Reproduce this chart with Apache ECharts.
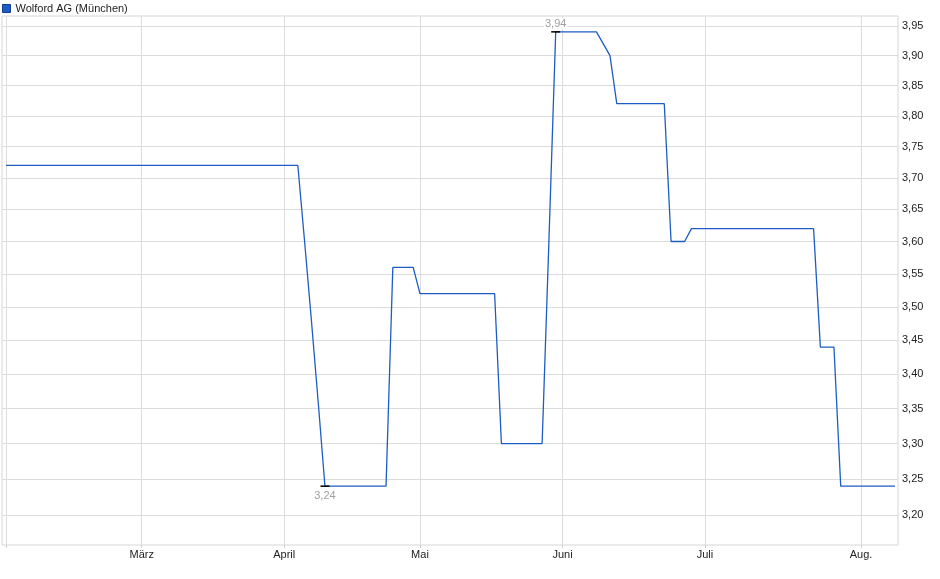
<!DOCTYPE html>
<html>
<head>
<meta charset="utf-8">
<script src="https://cdn.jsdelivr.net/npm/echarts@6/dist/echarts.min.js"></script>
<style>
html,body{margin:0;padding:0;background:#fff;}
#chart{width:940px;height:579px;}
</style>
</head>
<body>
<div id="chart"></div>
<script>
// Trading days 2025-02-03 .. 2025-08-08 (index-based x axis)
var seriesName = 'Wolford AG (München)';
var monthLabels = ['', 'März', 'April', 'Mai', 'Juni', 'Juli', 'Aug.'];
var monthStartIdx = [0, 20, 41, 61, 82, 103, 126];
var yTickValues = [3.20, 3.25, 3.30, 3.35, 3.40, 3.45, 3.50, 3.55, 3.60, 3.65, 3.70, 3.75, 3.80, 3.85, 3.90, 3.95];
var prices = [
  3.72,3.72,3.72,3.72,3.72,3.72,3.72,3.72,3.72,3.72,
  3.72,3.72,3.72,3.72,3.72,3.72,3.72,3.72,3.72,3.72,
  3.72,3.72,3.72,3.72,3.72,3.72,3.72,3.72,3.72,3.72,
  3.72,3.72,3.72,3.72,3.72,3.72,3.72,3.72,3.72,3.72,
  3.72,3.72,3.72,3.72,
  3.60,3.48,3.36,
  3.24,3.24,3.24,3.24,3.24,3.24,3.24,3.24,3.24,3.24,
  3.56,3.56,3.56,3.56,
  3.52,3.52,3.52,3.52,3.52,3.52,3.52,3.52,3.52,3.52,3.52,3.52,
  3.30,3.30,3.30,3.30,3.30,3.30,3.30,
  3.60,
  3.94,3.94,3.94,3.94,3.94,3.94,3.94,
  3.92,3.90,
  3.82,3.82,3.82,3.82,3.82,3.82,3.82,3.82,
  3.60,3.60,3.60,
  3.62,3.62,3.62,3.62,3.62,3.62,3.62,3.62,3.62,3.62,
  3.62,3.62,3.62,3.62,3.62,3.62,3.62,3.62,3.62,
  3.44,3.44,3.44,
  3.24,3.24,3.24,3.24,3.24,3.24,3.24,3.24,3.24
];

var FONT = '"Liberation Sans", Arial, sans-serif';
function fmt(v){ return Math.exp(v).toFixed(2).replace('.', ','); }

var lineData = prices.map(function(p, i){ return [i, Math.log(p)]; });

var chart = echarts.init(document.getElementById('chart'), null, {renderer: 'canvas'});
chart.setOption({
  animation: false,
  backgroundColor: '#fff',
  legend: {
    show: true,
    left: 2, top: 3, padding: 0,
    itemWidth: 8, itemHeight: 8,
    icon: 'rect',
    selectedMode: false,
    textStyle: {fontFamily: FONT, fontSize: 11, color: '#222'},
    data: [{name: seriesName, itemStyle: {color: '#1c5cc4', borderColor: '#123f8c', borderWidth: 1}}]
  },
  grid: {
    left: 2, right: 42, top: 16, bottom: 34,
    show: true, borderColor: '#d6d6d6', borderWidth: 1,
    containLabel: false
  },
  xAxis: {
    type: 'value',
    min: -0.59, max: 131.44,
    axisLine: {show: false},
    axisTick: {show: true, length: 3, lineStyle: {color: '#d0d0d0'}, customValues: monthStartIdx},
    axisLabel: {
      show: true, margin: 4, customValues: monthStartIdx,
      fontFamily: FONT, fontSize: 11, color: '#222',
      formatter: function(v){ var k = monthStartIdx.indexOf(Math.round(v)); return k >= 0 ? monthLabels[k] : ''; }
    },
    splitLine: {show: true, lineStyle: {color: '#dcdcdc', width: 1}}
  },
  yAxis: {
    type: 'value',
    position: 'right',
    min: Math.log(3.159), max: Math.log(3.967),
    axisLine: {show: false},
    axisTick: {show: false, customValues: yTickValues.map(Math.log)},
    axisLabel: {
      show: true, margin: 4, customValues: yTickValues.map(Math.log),
      fontFamily: FONT, fontSize: 11, color: '#222',
      formatter: function(v){ return fmt(v); }
    },
    splitLine: {show: true, lineStyle: {color: '#dcdcdc', width: 1}}
  },
  series: [{
    name: seriesName,
    type: 'line',
    data: lineData,
    showSymbol: false,
    symbol: 'none',
    color: '#1c5cc4',
    lineStyle: {color: '#1c5cc4', width: 1.3},
    silent: true,
    markPoint: {
      silent: true,
      symbol: 'rect',
      symbolSize: [9, 1.5],
      itemStyle: {color: '#000'},
      data: [
        {type: 'min', label: {show: true, position: 'bottom', distance: 4, formatter: function(p){ return fmt(p.value); },
          fontFamily: FONT, fontSize: 11, color: '#a0a0a0', backgroundColor: '#fff', padding: [0, 1]}},
        {type: 'max', label: {show: true, position: 'top', distance: 2, formatter: function(p){ return fmt(p.value); },
          fontFamily: FONT, fontSize: 11, color: '#a0a0a0', backgroundColor: '#fff', padding: [0, 1]}}
      ]
    }
  }]
});
</script>
</body>
</html>
